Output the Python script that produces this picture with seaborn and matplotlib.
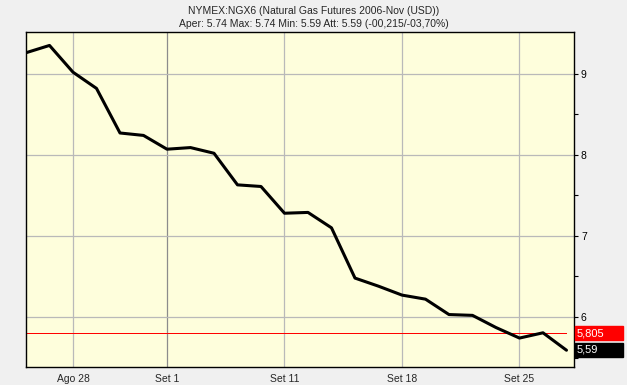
import matplotlib
matplotlib.use("Agg")
import matplotlib.pyplot as plt
import seaborn as sns
import numpy as np
import pandas as pd

# Trading days shown on the chart (Aug 24 - Sep 27, 2006)
dates = ["Ago 24", "Ago 25", "Ago 28", "Ago 29", "Ago 30", "Ago 31", "Set 1",
         "Set 5", "Set 6", "Set 7", "Set 8", "Set 11", "Set 12", "Set 13",
         "Set 14", "Set 15", "Set 18", "Set 19", "Set 20", "Set 21", "Set 22",
         "Set 25", "Set 26", "Set 27"]
closes = [9.26, 9.35, 9.02, 8.82, 8.27, 8.24, 8.07,
          8.09, 8.02, 7.63, 7.61, 7.28, 7.29, 7.10,
          6.48, 6.38, 6.27, 6.22, 6.03, 6.02, 5.87,
          5.74, 5.805, 5.59]
tick_labels = ["Ago 28", "Set 1", "Set 11", "Set 18", "Set 25"]
y_ticks = [6, 7, 8, 9]
y_minor = [5.5, 6.5, 7.5, 8.5]
ref_value = 5.805
ref_label = "5,805"
last_label = "5,59"

df = pd.DataFrame({"day": np.arange(len(dates)), "close": closes})

sns.set_style("white")
plt.rcParams["font.family"] = ["Liberation Sans", "DejaVu Sans"]

fig = plt.figure(figsize=(6.27, 3.85), dpi=100, facecolor="#f0f0f0")
ax = fig.add_axes([26 / 627, 1 - 367 / 385, (574 - 26) / 627, (367 - 31.5) / 385])
ax.set_facecolor("#fefedc")

# grid
tick_pos = [dates.index(t) for t in tick_labels]
for p in tick_pos:
    col = "#8c8c8c" if dates[p] == "Set 1" else "#b9b9b9"
    ax.axvline(p, color=col, lw=0.9, zorder=1)
for y in y_ticks:
    ax.axhline(y, color="#b9b9b9", lw=0.9, zorder=1)

ax.hlines(ref_value, 0, len(dates) - 1, color="#ff0000", lw=0.72, zorder=2,
          antialiased=False)
sns.lineplot(data=df, x="day", y="close", color="black", lw=2.2, ax=ax, zorder=3)

ax.set_xlim(0, 23.32)
ax.set_ylim(5.383, 9.522)
ax.set_xticks(tick_pos)
ax.set_xticklabels(tick_labels)
ax.set_yticks(y_ticks)
ax.set_yticks(y_minor, minor=True)
ax.yaxis.tick_right()
ax.tick_params(axis="y", which="both", direction="out", length=3, width=0.8,
               labelsize=7.5, pad=2, colors="black")
ax.tick_params(axis="x", direction="out", length=3, width=0.8, labelsize=7.5, pad=2)
ax.set_xlabel("")
ax.set_ylabel("")
for s in ax.spines.values():
    s.set_color("black")
    s.set_linewidth(1.0)

# value boxes on the right
fig.patches.append(plt.Rectangle((575 / 627, 1 - 340 / 385), 48 / 627, 14 / 385,
                                 transform=fig.transFigure, color="#ff0000", zorder=0))
fig.text(577 / 627, 1 - 333 / 385, ref_label, color="white", fontsize=8,
         va="center", ha="left")
fig.patches.append(plt.Rectangle((575 / 627, 1 - 357 / 385), 48 / 627, 14 / 385,
                                 transform=fig.transFigure, color="black", zorder=0))
fig.text(577 / 627, 1 - 350 / 385, last_label, color="white", fontsize=8,
         va="center", ha="left")

fig.text(0.5, 1 - 11 / 385, "NYMEX:NGX6 (Natural Gas Futures 2006-Nov (USD))",
         ha="center", va="center", fontsize=7.5)
fig.text(0.5, 1 - 24 / 385, "Aper: 5.74 Max: 5.74 Min: 5.59 Att: 5.59 (-00,215/-03,70%)",
         ha="center", va="center", fontsize=7.5)

fig.savefig("out.png", dpi=100, facecolor=fig.get_facecolor())
